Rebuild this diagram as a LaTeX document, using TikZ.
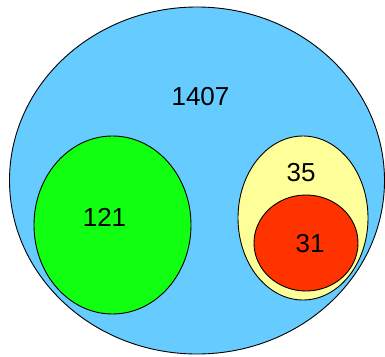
\documentclass[tikz,border=0pt]{standalone}
\usepackage{fontspec}
\setmainfont{Liberation Sans}
\usetikzlibrary{shapes.geometric}
\definecolor{setblue}{HTML}{66CCFF}
\definecolor{setgreen}{HTML}{11FF11}
\definecolor{setyellow}{HTML}{FFFF99}
\definecolor{setred}{HTML}{FF3300}
\begin{document}
\begin{tikzpicture}[x=1pt,y=-1pt,
  setshape/.style={ellipse,draw=black,line width=0.9pt,inner sep=0pt},
  count/.style={inner sep=0pt,font=\fontsize{26}{30}\selectfont}]
\useasboundingbox (0,0) rectangle (385,356);
\node[setshape,fill=setblue,minimum width=375pt,minimum height=347pt] (all) at (197,180.5) {};
\node[setshape,fill=setgreen,minimum width=157pt,minimum height=178pt] (green) at (112.5,225) {};
\node[setshape,fill=setyellow,minimum width=130pt,minimum height=164pt] (yellow) at (303,218) {};
\node[setshape,fill=setred,minimum width=104pt,minimum height=96pt] (red) at (306,243) {};
\node[count] (nall) at (200.5,96.5) {1407};
\node[count] (ngreen) at (104.5,217.5) {121};
\node[count] (nyellow) at (301,172.5) {35};
\node[count] (nred) at (310,243.5) {31};
\end{tikzpicture}
\end{document}
